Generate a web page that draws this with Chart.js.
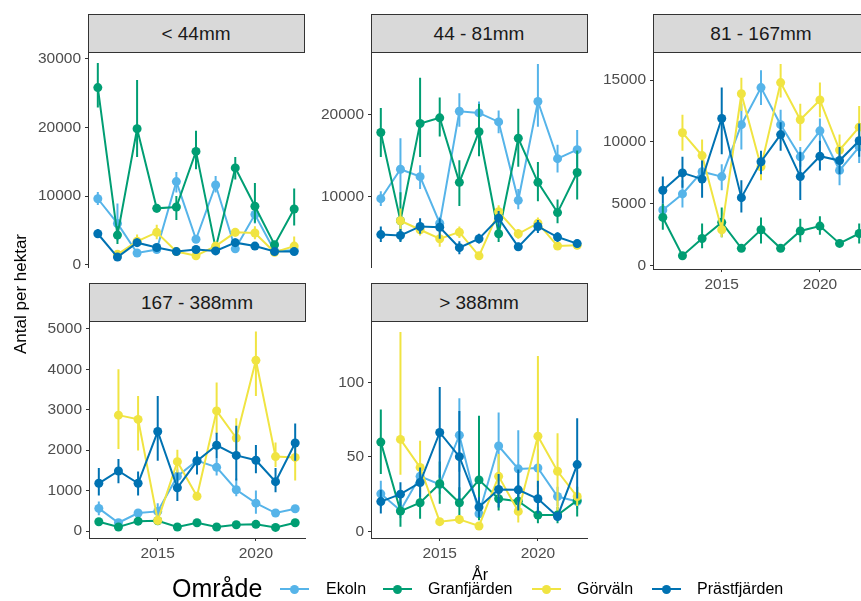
<!DOCTYPE html>
<html>
<head>
<meta charset="utf-8">
<script src="https://cdn.jsdelivr.net/npm/chart.js@4.4.1/dist/chart.umd.min.js"></script>
<style>
  html, body { margin: 0; padding: 0; background: #fff; }
  body { width: 861px; height: 601px; overflow: hidden; position: relative;
         font-family: "Liberation Sans", Arial, sans-serif; }
  canvas { position: absolute; }
  .strip { position: absolute; box-sizing: border-box; background: #d9d9d9; border: 1px solid #333;
           color: #1a1a1a; font-size: 19px; display: flex; align-items: center; justify-content: center; }
  .txt { position: absolute; white-space: nowrap; color: #000; }
  .key { position: absolute; width: 29px; height: 2px; }
  .key span { position: absolute; left: 10px; top: -3.5px; width: 9px; height: 9px; border-radius: 50%; }
</style>
</head>
<body>
<script>
// ---- data ----
const years = [2012, 2013, 2014, 2015, 2016, 2017, 2018, 2019, 2020, 2021, 2022];
const sizeClasses = ['< 44mm', '44 - 81mm', '81 - 167mm', '167 - 388mm', '> 388mm'];
const areas = ['Ekoln', 'Granfjärden', 'Görväln', 'Prästfjärden'];
const xTicks = [2015, 2020];

// < 44mm
const ekoln1 = [9600, 6000, 1700, 2200, 12100, 3700, 11600, 2300, 7300, 2000, 2100];
const ekoln1Lo = [8700, 3500, 1400, 1800, 10500, 3200, 10500, 1900, 6000, 1700, 1800];
const ekoln1Hi = [10600, 8900, 2100, 2600, 13500, 4200, 12900, 2800, 8500, 2300, 2500];
const gran1 = [25800, 4300, 19800, 8200, 8400, 16500, 2400, 14100, 8500, 2900, 8100];
const gran1Lo = [22900, 3000, 15700, 7600, 6500, 13900, 2000, 12400, 6100, 2300, 5700];
const gran1Hi = [29400, 5600, 26900, 8800, 10000, 19500, 2900, 15700, 11900, 3400, 11100];
const gorv1 = [null, 1500, 3400, 4700, 1900, 1300, 2700, 4700, 4600, 1800, 2700];
const gorv1Lo = [null, 1200, 2600, 3700, 1600, 1000, 2300, 4100, 3700, 1500, 1800];
const gorv1Hi = [null, 1900, 4400, 5800, 2300, 1700, 3100, 5300, 5600, 2200, 4100];
const prast1 = [4500, 1100, 3200, 2500, 1900, 2200, 2000, 3200, 2700, 1900, 1900];
const prast1Lo = [3900, 800, 2700, 2100, 1600, 1800, 1700, 2700, 2300, 1600, 1600];
const prast1Hi = [5200, 1500, 3800, 2900, 2200, 2600, 2400, 3800, 3100, 2200, 2300];
const yTicks1 = [0, 10000, 20000, 30000];

// 44 - 81mm
const ekoln2 = [9700, 13300, 12400, 6700, 20400, 20200, 19100, 9500, 21600, 14600, 15700];
const ekoln2Lo = [8800, 9600, 10900, 5900, 18500, 18800, 17700, 8400, 18500, 12900, 12900];
const ekoln2Hi = [10600, 17100, 13800, 7500, 22600, 21600, 20500, 10900, 26200, 16300, 18100];
const gran2 = [17800, 7000, 18900, 19600, 11700, 17900, 5400, 17100, 11700, 8000, 12900];
const gran2Lo = [14800, 4500, 14800, 17300, 8800, 14900, 4400, 13600, 9400, 6700, 9600];
const gran2Hi = [20800, 10500, 24500, 22100, 14400, 21300, 6400, 20700, 14200, 9600, 15600];
const gorv2 = [null, 7000, 5900, 4800, 5600, 2700, 8100, 5400, 6700, 3900, 4000];
const gorv2Lo = [null, 5800, 5200, 3800, 4900, 2300, 7300, 4800, 6000, 3500, 3500];
const gorv2Hi = [null, 8500, 6600, 5700, 6300, 3100, 8900, 6000, 7400, 4400, 4500];
const prast2 = [5300, 5200, 6300, 6200, 3700, 4800, 7300, 3800, 6300, 5000, 4200];
const prast2Lo = [4400, 4400, 5400, 4800, 2900, 4200, 6200, 3300, 5500, 4400, 3700];
const prast2Hi = [6300, 6000, 7300, 7300, 4500, 5400, 8200, 4300, 7100, 5600, 4700];
const yTicks2 = [10000, 20000];

// 81 - 167mm
const ekoln3 = [4500, 5800, 7600, 7200, 11400, 14400, 11400, 8800, 10900, 7700, 9600];
const ekoln3Lo = [4000, 4700, 6800, 6100, 9400, 13000, 10300, 8000, 9800, 6500, 8300];
const ekoln3Hi = [5000, 6900, 8400, 8200, 13100, 15800, 12600, 9600, 11900, 9000, 10900];
const gran3 = [3900, 800, 2200, 3500, 1400, 2900, 1400, 2800, 3200, 1800, 2600];
const gran3Lo = [2900, 600, 1400, 2300, 1200, 1800, 1200, 1900, 2500, 1500, 1800];
const gran3Hi = [5000, 1000, 3400, 4700, 1700, 3900, 1700, 3800, 4000, 2100, 3400];
const gorv3 = [null, 10750, 8900, 2900, 13900, 8000, 14800, 11800, 13400, 9350, 11200];
const gorv3Lo = [null, 9300, 7600, 2300, 12500, 6900, 13600, 10100, 12000, 8200, 9500];
const gorv3Hi = [null, 12200, 10200, 3500, 15200, 9100, 16300, 13100, 14800, 10600, 12900];
const prast3 = [6100, 7500, 7000, 11900, 5500, 8400, 10600, 7200, 8850, 8500, 10100];
const prast3Lo = [5000, 6300, 5500, 9000, 4300, 7400, 9300, 5300, 7700, 7400, 8800];
const prast3Hi = [7200, 8800, 8500, 14400, 6900, 9300, 11600, 9200, 10100, 9600, 11500];
const yTicks3 = [0, 5000, 10000, 15000];

// 167 - 388mm
const ekoln4 = [560, 205, 445, 485, 1355, 1740, 1575, 1020, 690, 445, 550];
const ekoln4Lo = [390, 150, 370, 300, 1200, 1550, 1370, 860, 430, 390, 480];
const ekoln4Hi = [730, 260, 520, 690, 1520, 1900, 1800, 1300, 1000, 520, 620];
const gran4 = [230, 100, 245, 255, 100, 205, 100, 155, 165, 90, 205];
const gran4Lo = [190, 80, 200, 215, 80, 170, 80, 130, 140, 75, 170];
const gran4Hi = [270, 120, 290, 295, 120, 240, 120, 180, 190, 105, 240];
const gorv4 = [null, 2865, 2760, 260, 1715, 860, 2970, 2300, 4220, 1840, 1820];
const gorv4Lo = [null, 2030, 1990, 200, 1420, 760, 2400, 1820, 3340, 1580, 1250];
const gorv4Hi = [null, 4000, 3340, 330, 2010, 960, 3670, 2790, 4930, 2190, 2190];
const prast4 = [1180, 1485, 1180, 2460, 1070, 1730, 2120, 1870, 1750, 1220, 2175];
const prast4Lo = [880, 1180, 880, 1740, 740, 1400, 1800, 1250, 1430, 960, 1740];
const prast4Hi = [1560, 1780, 1470, 3340, 1450, 1970, 2430, 2600, 2130, 1560, 2660];
const yTicks4 = [0, 1000, 2000, 3000, 4000, 5000];

// > 388mm
const ekoln5 = [25.2, 14, 37, 31.5, 64.7, 11.8, 57.4, 42, 42.6, 23.4, 20];
const ekoln5Lo = [16, 9, 31, 25, 40, 8, 34, 18.5, 30, 17, 15];
const ekoln5Hi = [34, 20, 43, 38, 89.5, 16, 80, 68, 55, 30, 25];
const gran5 = [60, 13.6, 19.2, 32, 19.2, 34.6, 21.9, 20.3, 11, 11, 20.8];
const gran5Lo = [38.6, 3, 8.5, 18.5, 10, 7.4, 14, 13, 5.5, 5.5, 10];
const gran5Hi = [82, 23, 29.7, 47, 29.7, 77.7, 30, 28, 16.5, 16.5, 30];
const gorv5 = [null, 61.8, 43, 6.5, 8, 3.6, 37, 13.4, 64, 40.4, 23.4];
const gorv5Lo = [null, 38, 25, 4, 5, 2, 23, 6, 25, 14, 17];
const gorv5Hi = [null, 134, 61, 9, 11, 5, 52, 20, 118, 66, 30];
const prast5 = [20, 25, 32.8, 66.5, 50.2, 16.3, 28.1, 27.9, 21.9, 10, 44.9];
const prast5Lo = [12, 17, 23, 36, 21, 9.6, 16, 14, 12, 7, 22];
const prast5Hi = [28, 33, 43, 97, 81, 23, 38.5, 41.5, 34, 12.8, 76];
const yTicks5 = [0, 50, 100];

// ---- layout / style ----
const colors = ['#56B4E9', '#009E73', '#F0E442', '#0072B2'];
const fontFamily = '"Liberation Sans", Arial, sans-serif';

const panels = [
  { left: 88, top: 52, w: 216, h: 217, xAxis: false, yMin: -450, yMax: 30800, yTicks: yTicks1,
    series: [[ekoln1, ekoln1Lo, ekoln1Hi], [gran1, gran1Lo, gran1Hi], [gorv1, gorv1Lo, gorv1Hi], [prast1, prast1Lo, prast1Hi]] },
  { left: 371, top: 52, w: 216, h: 217, xAxis: false, yMin: 1250, yMax: 27500, yTicks: yTicks2,
    series: [[ekoln2, ekoln2Lo, ekoln2Hi], [gran2, gran2Lo, gran2Hi], [gorv2, gorv2Lo, gorv2Hi], [prast2, prast2Lo, prast2Hi]] },
  { left: 653, top: 52, w: 216, h: 217, xAxis: true, yMin: -270, yMax: 17170, yTicks: yTicks3,
    series: [[ekoln3, ekoln3Lo, ekoln3Hi], [gran3, gran3Lo, gran3Hi], [gorv3, gorv3Lo, gorv3Hi], [prast3, prast3Lo, prast3Hi]] },
  { left: 89, top: 321, w: 216, h: 217, xAxis: true, yMin: -172, yMax: 5160, yTicks: yTicks4,
    series: [[ekoln4, ekoln4Lo, ekoln4Hi], [gran4, gran4Lo, gran4Hi], [gorv4, gorv4Lo, gorv4Hi], [prast4, prast4Lo, prast4Hi]] },
  { left: 371, top: 321, w: 216, h: 217, xAxis: true, yMin: -4.5, yMax: 140.6, yTicks: yTicks5,
    series: [[ekoln5, ekoln5Lo, ekoln5Hi], [gran5, gran5Lo, gran5Hi], [gorv5, gorv5Lo, gorv5Hi], [prast5, prast5Lo, prast5Hi]] }
];

// vertical error bars, drawn under each series' line and points
const errorBars = {
  id: 'errorBars',
  beforeDatasetDraw(chart, args) {
    const ds = chart.data.datasets[args.index];
    const { ctx, chartArea, scales: { x, y } } = chart;
    ctx.save();
    ctx.beginPath();
    ctx.rect(chartArea.left, chartArea.top, chartArea.width, chartArea.height);
    ctx.clip();
    ctx.strokeStyle = ds.borderColor;
    ctx.lineWidth = 2;
    ds.errLo.forEach((lo, i) => {
      const hi = ds.errHi[i];
      if (lo == null || hi == null) return;
      const px = x.getPixelForValue(years[i]);
      ctx.beginPath();
      ctx.moveTo(px, y.getPixelForValue(lo));
      ctx.lineTo(px, y.getPixelForValue(hi));
      ctx.stroke();
    });
    ctx.restore();
  }
};

const axisStyle = {
  grid: { display: true, drawOnChartArea: false, drawTicks: true, tickLength: 3, color: '#333', lineWidth: 1 },
  border: { display: true, color: '#333', width: 1 }
};

const makePanel = (p, idx) => {
  const pad = 12, yW = 62, xH = p.xAxis ? 28 : 0;

  const strip = document.createElement('div');
  strip.className = 'strip';
  strip.style.left = (p.left - 0.5) + 'px';
  strip.style.top = (p.top - 38) + 'px';
  strip.style.width = (p.w + 1) + 'px';
  strip.style.height = '39px';
  strip.textContent = sizeClasses[idx];
  document.body.appendChild(strip);

  const canvas = document.createElement('canvas');
  const cw = pad + yW + p.w + pad, ch = pad + p.h + xH + pad;
  canvas.width = cw; canvas.height = ch;
  canvas.style.width = cw + 'px'; canvas.style.height = ch + 'px';
  canvas.style.left = (p.left - pad - yW) + 'px';
  canvas.style.top = (p.top - pad) + 'px';
  document.body.appendChild(canvas);

  const datasets = p.series.map(([vals, lo, hi], s) => ({
    label: areas[s],
    data: vals.map((v, i) => ({ x: years[i], y: v })),
    errLo: lo,
    errHi: hi,
    borderColor: colors[s],
    backgroundColor: colors[s],
    borderWidth: 2,
    pointRadius: 4.5,
    pointBorderWidth: 0,
    pointHoverRadius: 4.5,
    tension: 0,
    spanGaps: false,
    order: 4 - s
  }));

  new Chart(canvas, {
    type: 'line',
    data: { datasets },
    plugins: [errorBars],
    options: {
      responsive: false,
      animation: false,
      events: [],
      layout: { padding: pad },
      plugins: { legend: { display: false }, tooltip: { enabled: false } },
      scales: {
        x: {
          type: 'linear', min: 2011.5, max: 2022.5, display: p.xAxis,
          afterBuildTicks: sc => { sc.ticks = xTicks.map(v => ({ value: v })); },
          afterFit: sc => { sc.height = xH; },
          ticks: { callback: v => String(v), color: '#4d4d4d', font: { size: 15.5, family: fontFamily },
                   padding: 3, maxRotation: 0, autoSkip: false },
          ...axisStyle
        },
        y: {
          type: 'linear', min: p.yMin, max: p.yMax,
          afterBuildTicks: sc => { sc.ticks = p.yTicks.map(v => ({ value: v })); },
          afterFit: sc => { sc.width = yW; },
          ticks: { callback: v => String(v), color: '#4d4d4d', font: { size: 15.5, family: fontFamily }, padding: 4 },
          ...axisStyle
        }
      }
    }
  });
};

panels.forEach(makePanel);

// axis titles
const addText = (text, css) => {
  const d = document.createElement('div');
  d.className = 'txt';
  d.textContent = text;
  Object.assign(d.style, css);
  document.body.appendChild(d);
  return d;
};
addText('Antal per hektar', { left: '20.7px', top: '294px', fontSize: '17px',
  transform: 'translate(-50%, -50%) rotate(-90deg)' });
addText('År', { left: '480px', top: '575px', fontSize: '16px', transform: 'translate(-50%, -50%)' });

// legend
addText('Område', { left: '172px', top: '588px', fontSize: '25px', transform: 'translateY(-50%)' });
const keyX = [280, 383, 532, 652];
const labelX = [326, 428, 577, 697];
areas.forEach((a, i) => {
  const k = document.createElement('div');
  k.className = 'key';
  k.style.left = keyX[i] + 'px';
  k.style.top = '588px';
  k.style.background = colors[i];
  const dot = document.createElement('span');
  dot.style.background = colors[i];
  k.appendChild(dot);
  document.body.appendChild(k);
  addText(a, { left: labelX[i] + 'px', top: '589px', fontSize: '16px', transform: 'translateY(-50%)' });
});
</script>
</body>
</html>
